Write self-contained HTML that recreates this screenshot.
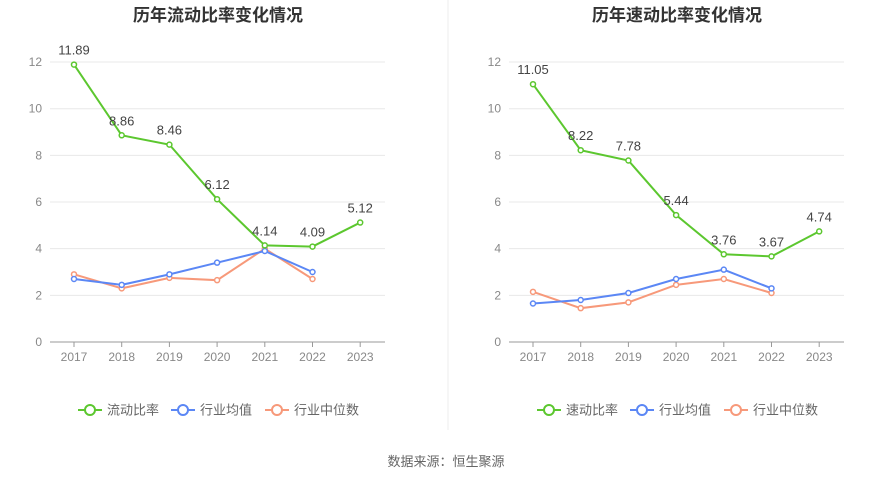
<!DOCTYPE html>
<html><head><meta charset="utf-8">
<style>
body{margin:0;background:#fff;width:893px;height:481px;overflow:hidden;font-family:"Liberation Sans","Noto Sans CJK SC",sans-serif;}
svg{display:block}
</style></head>
<body>
<svg id="c" width="893" height="481" font-family="Liberation Sans, Noto Sans CJK SC, sans-serif"></svg>
<script>
const years=["2017","2018","2019","2020","2021","2022","2023"];
const yTicks=[0,2,4,6,8,10,12];
const leftMain=[11.89,8.86,8.46,6.12,4.14,4.09,5.12];
const leftAvg=[2.7,2.45,2.9,3.4,3.9,3.0];
const leftMed=[2.9,2.3,2.75,2.65,4.0,2.7];
const rightMain=[11.05,8.22,7.78,5.44,3.76,3.67,4.74];
const rightAvg=[1.65,1.8,2.1,2.7,3.1,2.3];
const rightMed=[2.15,1.45,1.7,2.45,2.7,2.1];
const NS="http://www.w3.org/2000/svg";
const svg=document.getElementById('c');
function mk(tag,attrs,parent,text){const e=document.createElementNS(NS,tag);for(const k in attrs)e.setAttribute(k,attrs[k]);if(text!==undefined)e.textContent=text;(parent||svg).appendChild(e);return e;}
const GREEN="#5cc72f",BLUE="#5b87f5",ORANGE="#f7997a";
function chart(ox,title,mainName,main,avg,med,prefix){
  const g=mk('g',{});
  
  
  const x0=ox+24,step=47.7,yb=342,yk=23.33;
  const X=i=>x0+i*step, Y=v=>yb-v*yk;
  const t=mk('text',{x:ox+168,y:21,'text-anchor':'middle','font-size':17,'font-weight':'bold',fill:'#333'},g,title);
  
  yTicks.forEach(v=>{
    if(v>0){const l=mk('line',{x1:ox,x2:ox+335,y1:Y(v),y2:Y(v),stroke:'#e8e8e8'},g);
    }
    const tl=mk('text',{x:ox-8,y:Y(v)+4,'text-anchor':'end','font-size':12,fill:'#888'},g,String(v));
    
  });
  const ax=mk('line',{x1:ox,x2:ox+335,y1:yb,y2:yb,stroke:'#999'},g);
  
  years.forEach((y,i)=>{
    mk('line',{x1:X(i),x2:X(i),y1:yb,y2:yb+5,stroke:'#999'},g);
    const tl=mk('text',{x:X(i),y:yb+19,'text-anchor':'middle','font-size':12,fill:'#888'},g,y);
    
  });
  function series(vals,color,name,labels){
    const p=mk('polyline',{points:vals.map((v,i)=>X(i)+','+Y(v)).join(' '),fill:'none',stroke:color,'stroke-width':2},g);
    
    vals.forEach((v,i)=>{
      const c=mk('circle',{cx:X(i),cy:Y(v),r:2.5,fill:'#fff',stroke:color,'stroke-width':1.5},g);
      
      if(labels){const tl=mk('text',{x:X(i),y:Y(v)-10,'text-anchor':'middle','font-size':13,fill:'#444'},g,v.toFixed(2));
      }
    });
  }
  series(med,ORANGE,prefix+'-median');
  series(avg,BLUE,prefix+'-average');
  series(main,GREEN,prefix+'-main',true);
  const leg=[[mainName,GREEN,ox+40],["行业均值",BLUE,ox+133],["行业中位数",ORANGE,ox+227]];
  leg.forEach(([n,c,lx])=>{
    const lg=mk('g',{},g);
    
    mk('line',{x1:lx-12,x2:lx+12,y1:410,y2:410,stroke:c,'stroke-width':2},lg);
    mk('circle',{cx:lx,cy:410,r:5,fill:'#fff',stroke:c,'stroke-width':2},lg);
    mk('text',{x:lx+17,y:414.5,'font-size':13,fill:'#666'},lg,n);
  });
}
chart(50,"历年流动比率变化情况","流动比率",leftMain,leftAvg,leftMed,'current-ratio');
chart(509,"历年速动比率变化情况","速动比率",rightMain,rightAvg,rightMed,'quick-ratio');
const d=mk('line',{x1:448,x2:448,y1:0,y2:430,stroke:'#eee'});

const f=mk('text',{x:446,y:466,'text-anchor':'middle','font-size':13,fill:'#666'},svg,"数据来源：恒生聚源");

</script>
</body></html>
